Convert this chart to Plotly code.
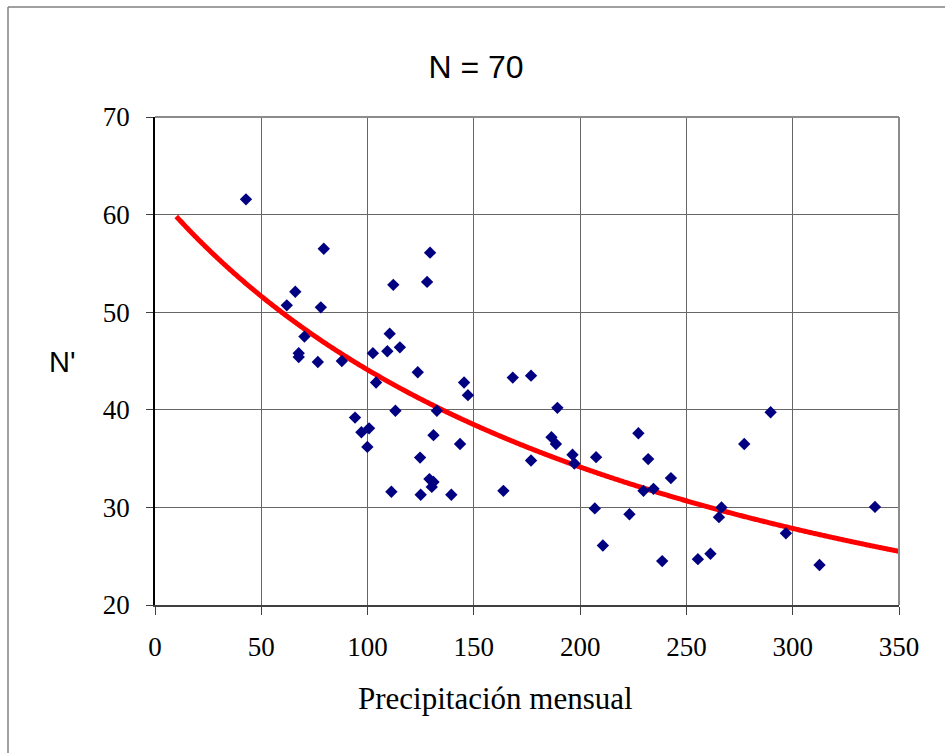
import numpy as np
import plotly.graph_objects as go

# Observed data (Precipitación mensual vs N')
precip = [42.8, 62.0, 66.0, 67.6, 67.6, 70.3, 76.6, 78.0, 79.4, 87.9,
          94.1, 97.1, 100.7, 99.9, 102.5, 104.0, 109.3, 110.4, 111.2, 112.1,
          113.1, 115.2, 123.6, 124.7, 125.0, 128.0, 129.4, 129.1, 131.0, 130.2,
          131.0, 132.6, 139.4, 143.5, 145.4, 147.2, 163.9, 168.3, 176.9, 176.9,
          186.5, 188.6, 189.3, 196.4, 197.3, 207.5, 206.9, 210.7, 223.2, 227.4,
          229.8, 232.0, 234.5, 238.6, 242.7, 255.4, 261.3, 265.3, 266.5, 277.2,
          289.6, 296.8, 312.6, 338.7]
n_prime = [61.56, 50.7, 52.1, 45.8, 45.4, 47.5, 44.9, 50.5, 56.5, 45.0,
           39.2, 37.7, 38.1, 36.2, 45.8, 42.8, 46.0, 47.8, 31.6, 52.8,
           39.9, 46.4, 43.85, 35.1, 31.3, 53.1, 56.1, 32.9, 32.6, 32.1,
           37.4, 39.9, 31.3, 36.5, 42.8, 41.5, 31.7, 43.3, 43.5, 34.8,
           37.2, 36.5, 40.2, 35.4, 34.5, 35.15, 29.9, 26.1, 29.3, 37.6,
           31.7, 34.95, 31.9, 24.5, 33.0, 24.7, 25.25, 29.0, 30.0, 36.5,
           39.75, 27.35, 24.1, 30.05]

# Fitted model: N' = 1 / (A + B * P)
fit_A = 0.016058
fit_B = 6.618e-5
fit_x_min, fit_x_max = 10, 350

x_ticks = [0, 50, 100, 150, 200, 250, 300, 350]
y_ticks = [20, 30, 40, 50, 60, 70]

fx = np.linspace(fit_x_min, fit_x_max, 400)
fy = 1.0 / (fit_A + fit_B * fx)

fig = go.Figure()
fig.add_trace(go.Scatter(x=fx, y=fy, mode="lines",
                         line=dict(color="#FF0000", width=5, shape="spline"),
                         hoverinfo="skip", showlegend=False))
fig.add_trace(go.Scatter(x=precip, y=n_prime, mode="markers",
                         marker=dict(symbol="diamond", size=9.5, color="#000080"),
                         showlegend=False))

serif = "Liberation Serif, Times New Roman, serif"
sans = "Liberation Sans, Arial, sans-serif"

fig.update_layout(
    width=945, height=753,
    margin=dict(l=155, r=46, t=117, b=148),
    paper_bgcolor="white", plot_bgcolor="white",
    title=dict(text="N = 70", x=476 / 945, xref="container", xanchor="center",
               y=1 - 67 / 753, yanchor="middle",
               font=dict(family=sans, size=32, color="black")),
    xaxis=dict(range=[0, 350], tickvals=x_ticks, ticks="outside", ticklen=8,
               tickcolor="#404040", tickwidth=1,
               showgrid=True, gridcolor="#666666", gridwidth=1,
               showline=True, linecolor="#404040", linewidth=1.5,
               zeroline=False, ticklabelstandoff=9,
               tickfont=dict(family=serif, size=27, color="black")),
    yaxis=dict(range=[20, 70], tickvals=y_ticks, ticks="outside", ticklen=7,
               tickcolor="#404040", tickwidth=1,
               showgrid=True, gridcolor="#666666", gridwidth=1,
               showline=True, linecolor="black", linewidth=1.5,
               zeroline=False, ticklabelstandoff=11,
               tickfont=dict(family=serif, size=27, color="black")),
    annotations=[
        dict(text="N'", xref="paper", yref="paper",
             x=(62 - 155) / 744, y=(605 - 362) / 488,
             xanchor="center", yanchor="middle", showarrow=False,
             font=dict(family=sans, size=29, color="black")),
        dict(text="Precipitación mensual", xref="paper", yref="paper",
             x=(495 - 155) / 744, y=(605 - 698) / 488,
             xanchor="center", yanchor="middle", showarrow=False,
             font=dict(family=serif, size=31, color="black")),
    ],
    shapes=[
        # plot area top and right borders
        dict(type="line", xref="paper", yref="paper", x0=0, x1=1, y0=1, y1=1,
             line=dict(color="#8c8c8c", width=2)),
        dict(type="line", xref="paper", yref="paper", x0=1, x1=1, y0=0, y1=1,
             line=dict(color="#8c8c8c", width=2)),
        # outer chart frame
        dict(type="line", xref="paper", yref="paper",
             x0=(8 - 155) / 744, x1=(8 - 155) / 744,
             y0=(605 - 760) / 488, y1=(605 - 7) / 488,
             line=dict(color="#808080", width=1.5)),
        dict(type="line", xref="paper", yref="paper",
             x0=(8 - 155) / 744, x1=(950 - 155) / 744,
             y0=(605 - 7) / 488, y1=(605 - 7) / 488,
             line=dict(color="#808080", width=1.5)),
    ],
)

fig.write_html("out.html")
